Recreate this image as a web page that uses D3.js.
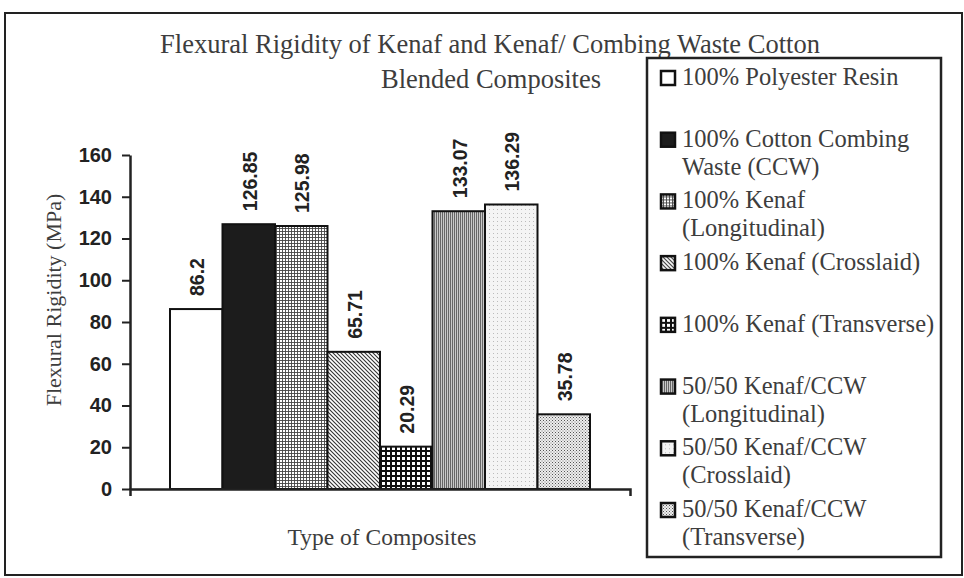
<!DOCTYPE html>
<html>
<head>
    <title>Flexural Rigidity</title>
    <script src="https://d3js.org/d3.v7.min.js"></script>
    <style>
        body { margin: 0; background: #fff; }
        .serif { font-family: "Liberation Serif", "Times New Roman", serif; fill: #3d3d3d; }
        .sans { font-family: "Liberation Sans", Arial, sans-serif; font-weight: bold; fill: #222; }
    </style>
</head>
<body>
<script>
    // chart data
    var composites = ["100% Polyester Resin", "100% Cotton Combing Waste (CCW)", "100% Kenaf (Longitudinal)",
        "100% Kenaf (Crosslaid)", "100% Kenaf (Transverse)", "50/50 Kenaf/CCW (Longitudinal)",
        "50/50 Kenaf/CCW (Crosslaid)", "50/50 Kenaf/CCW (Transverse)"];
    var rigidity = [86.2, 126.85, 125.98, 65.71, 20.29, 133.07, 136.29, 35.78];
    var valueLabels = ["86.2", "126.85", "125.98", "65.71", "20.29", "133.07", "136.29", "35.78"];
    var legendLines = [
        ["100% Polyester Resin"],
        ["100% Cotton Combing", "Waste (CCW)"],
        ["100% Kenaf", "(Longitudinal)"],
        ["100% Kenaf (Crosslaid)"],
        ["100% Kenaf (Transverse)"],
        ["50/50 Kenaf/CCW", "(Longitudinal)"],
        ["50/50 Kenaf/CCW", "(Crosslaid)"],
        ["50/50 Kenaf/CCW", "(Transverse)"]
    ];
    var yTicks = [0, 20, 40, 60, 80, 100, 120, 140, 160];
    var fills = ["#fff", "#1c1c1c", "url(#p-grid)", "url(#p-diag)", "url(#p-coarse)",
        "url(#p-vert)", "url(#p-light)", "url(#p-dots)"];

    var w = 964, h = 578;

    var svg = d3.select("body").append("svg")
        .attr("width", w)
        .attr("height", h);

    // patterns
    var defs = svg.append("defs");
    function pattern(id, size) {
        return defs.append("pattern").attr("id", id)
            .attr("patternUnits", "userSpaceOnUse")
            .attr("width", size).attr("height", size);
    }
    var p = pattern("p-grid", 3);
    p.append("rect").attr("width", 3).attr("height", 3).attr("fill", "#fff");
    p.append("path").attr("d", "M0,0.5H3M0.5,0V3").attr("stroke", "#444").attr("stroke-width", 0.9);

    p = pattern("p-diag", 4);
    p.append("rect").attr("width", 4).attr("height", 4).attr("fill", "#fff");
    p.append("path").attr("d", "M-1,-1L5,5M-1,3L1,5M3,-1L5,1").attr("stroke", "#333").attr("stroke-width", 1.1);

    p = pattern("p-coarse", 5);
    p.append("rect").attr("width", 5).attr("height", 5).attr("fill", "#fff");
    p.append("path").attr("d", "M0,1H5M1,0V5").attr("stroke", "#111").attr("stroke-width", 2);

    p = pattern("p-vert", 2);
    p.append("rect").attr("width", 2).attr("height", 2).attr("fill", "#c8c8c8");
    p.append("path").attr("d", "M0.5,0V2").attr("stroke", "#666").attr("stroke-width", 1);

    p = pattern("p-light", 4);
    p.append("rect").attr("width", 4).attr("height", 4).attr("fill", "#f4f4f4");
    p.append("rect").attr("x", 1).attr("y", 1).attr("width", 1).attr("height", 1).attr("fill", "#bbb");

    p = pattern("p-dots", 3);
    p.append("rect").attr("width", 3).attr("height", 3).attr("fill", "#eee");
    p.append("rect").attr("x", 0).attr("y", 0).attr("width", 1).attr("height", 1).attr("fill", "#555");
    p.append("rect").attr("x", 1.5).attr("y", 1.5).attr("width", 1).attr("height", 1).attr("fill", "#777");

    // outer frame
    svg.append("rect")
        .attr("x", 5).attr("y", 13).attr("width", 957).attr("height", 562)
        .attr("fill", "none").attr("stroke", "#222").attr("stroke-width", 2);

    // scales
    var y = d3.scaleLinear().domain([0, 160]).range([489, 155]);
    var x = d3.scaleBand().domain(composites).range([170, 590]).padding(0);
    var xAxisScale = d3.scaleLinear().domain([0, 1]).range([130, 630]);

    // bars
    svg.selectAll(".bar")
        .data(rigidity)
        .enter().append("rect")
        .attr("class", "bar")
        .attr("x", function (d, i) { return x(composites[i]); })
        .attr("y", function (d) { return y(d); })
        .attr("width", x.bandwidth())
        .attr("height", function (d) { return y(0) - y(d); })
        .attr("fill", function (d, i) { return fills[i]; })
        .attr("stroke", "#111")
        .attr("stroke-width", 2);

    // value labels
    svg.selectAll(".val")
        .data(rigidity)
        .enter().append("text")
        .attr("class", "sans val")
        .attr("transform", function (d, i) {
            return "translate(" + (x(composites[i]) + x.bandwidth() / 2 + 1) + "," + (y(d) - 13) + ") rotate(-90)";
        })
        .attr("dominant-baseline", "central")
        .style("font-size", "19.5px")
        .text(function (d, i) { return valueLabels[i]; });

    // y axis
    var yAxis = svg.append("g")
        .attr("transform", "translate(130,0)")
        .call(d3.axisLeft(y).tickValues(yTicks).tickSize(8).tickSizeOuter(0).tickPadding(10));
    yAxis.select(".domain").attr("stroke", "#222").attr("stroke-width", 2.5);
    yAxis.selectAll(".tick line").attr("stroke", "#222").attr("stroke-width", 2);
    yAxis.selectAll(".tick text").attr("class", "sans").style("font-size", "20px");

    // x axis
    var xAxis = svg.append("g")
        .attr("transform", "translate(0,489)")
        .call(d3.axisBottom(xAxisScale).tickValues([]).tickSizeOuter(7));
    xAxis.select(".domain").attr("stroke", "#222").attr("stroke-width", 2.5);

    // titles
    svg.append("text").attr("class", "serif")
        .attr("x", 490).attr("y", 53).attr("text-anchor", "middle")
        .style("font-size", "26.5px")
        .text("Flexural Rigidity of Kenaf and Kenaf/ Combing Waste Cotton");
    svg.append("text").attr("class", "serif")
        .attr("x", 491).attr("y", 88).attr("text-anchor", "middle")
        .style("font-size", "26.5px")
        .text("Blended Composites");

    svg.append("text").attr("class", "serif")
        .attr("transform", "translate(53,300) rotate(-90)")
        .attr("text-anchor", "middle")
        .attr("dominant-baseline", "central")
        .style("font-size", "22px")
        .text("Flexural Rigidity (MPa)");

    svg.append("text").attr("class", "serif")
        .attr("x", 382).attr("y", 545).attr("text-anchor", "middle")
        .style("font-size", "23.5px")
        .text("Type of Composites");

    // legend
    var legend = svg.append("g");
    legend.append("rect")
        .attr("x", 647).attr("y", 58).attr("width", 294).attr("height", 499)
        .attr("fill", "#fff").attr("stroke", "#222").attr("stroke-width", 2.5);

    var rowY = d3.scaleLinear().domain([0, 7]).range([85, 517]);
    var items = legend.selectAll(".item")
        .data(legendLines)
        .enter().append("g")
        .attr("class", "item")
        .attr("transform", function (d, i) { return "translate(0," + rowY(i) + ")"; });

    items.append("rect")
        .attr("x", 661).attr("y", -14).attr("width", 14).attr("height", 14)
        .attr("fill", function (d, i) { return fills[i]; })
        .attr("stroke", "#111").attr("stroke-width", 2.5);

    items.each(function (lines) {
        var g = d3.select(this);
        lines.forEach(function (t, j) {
            g.append("text").attr("class", "serif")
                .attr("x", 682).attr("y", j * 28)
                .style("font-size", "24.5px")
                .text(t);
        });
    });
</script>
</body>
</html>
